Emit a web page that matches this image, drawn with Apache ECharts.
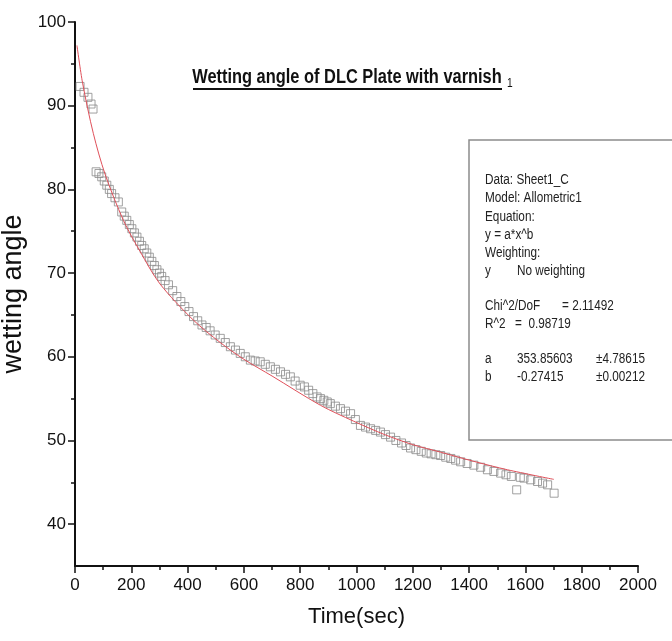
<!DOCTYPE html>
<html>
<head>
<meta charset="utf-8">
<script src="https://cdn.jsdelivr.net/npm/echarts@6/dist/echarts.min.js"></script>
<style>
  html, body { margin: 0; background: #fff; }
  #chart { width: 672px; height: 641px; }
</style>
</head>
<body>
<div id="chart"></div>
<script>
// measured points (time in sec, wetting angle in deg)
const expTime = [18, 32, 46, 57, 64,
  75, 85, 95, 104, 113, 122, 130, 142, 154, 166, 175, 184, 193, 202, 211, 220, 229, 237, 246, 255,
  264, 273, 282, 291, 300, 308, 320, 332, 347, 362, 376, 390, 405, 421, 436, 451, 466, 480, 498,
  516, 534, 552, 570, 587, 605, 623, 640, 658, 676, 694, 712, 730, 748, 765, 782, 800, 815, 830,
  845, 860, 872, 884, 896, 907, 925, 943, 961, 979, 996, 1014, 1032, 1050, 1068, 1085, 1103, 1121,
  1140, 1160, 1176, 1192, 1211, 1230, 1248, 1265, 1282, 1299, 1317, 1335, 1352, 1370, 1393, 1417,
  1441, 1465, 1488, 1512, 1531, 1550, 1569, 1582, 1595, 1619, 1643, 1661, 1679, 1702];
const expAngle = [92.3, 91.6, 91.0, 90.2, 89.6,
  82.1, 81.9, 81.5, 81.0, 80.5, 80.0, 79.5, 79.0, 78.5, 77.3, 76.8, 76.3, 75.8, 75.3, 74.8, 74.3, 73.8, 73.3, 72.9, 72.4,
  71.9, 71.4, 70.9, 70.4, 70.0, 69.6, 69.1, 68.6, 67.9, 67.2, 66.6, 66.0, 65.4, 64.8, 64.3, 63.8, 63.5, 63.1, 62.6,
  62.2, 61.7, 61.2, 60.8, 60.4, 60.0, 59.6, 59.5, 59.4, 59.1, 58.8, 58.5, 58.2, 57.9, 57.6, 57.1, 56.6, 56.4, 56.0,
  55.6, 55.2, 55.0, 54.8, 54.6, 54.4, 54.1, 53.8, 53.5, 53.2, 52.5, 51.8, 51.6, 51.4, 51.2, 51.0, 50.7, 50.4,
  50.0, 49.7, 49.4, 49.1, 48.9, 48.7, 48.5, 48.4, 48.3, 48.2, 48.0, 47.85, 47.65, 47.45, 47.25, 47.05,
  46.8, 46.5, 46.3, 46.1, 45.9, 45.7, 44.1, 45.6, 45.5, 45.3, 45.1, 44.9, 44.7, 43.7];

// fitted curve
const fitTime = [7, 27, 65, 107, 172, 231, 302, 420, 516, 600, 700, 872, 990, 1100, 1200, 1299, 1417, 1536, 1701];
const fitAngle = [97.2, 92.7, 86.7, 81.8, 76.3, 72.6, 68.7, 64.4, 61.7, 59.7, 57.7, 54.2, 52.3, 50.7, 49.5, 48.6, 47.5, 46.5, 45.35];

const yTickValues = [40, 50, 60, 70, 80, 90, 100];
const yMinorValues = [45, 55, 65, 75, 85, 95];

const fitRows = [
  ['Data: Sheet1_C', 485, 180],
  ['Model: Allometric1', 485, 198],
  ['Equation:', 485, 217],
  ['y = a*x^b', 485, 235],
  ['Weighting:', 485, 253],
  ['y', 485, 271], ['No weighting', 517, 271],
  ['Chi^2/DoF', 485, 306], ['= 2.11492', 562, 306],
  ['R^2', 485, 324], ['=  0.98719', 515, 324],
  ['a', 485, 359], ['353.85603', 517, 359], ['\u00b14.78615', 596, 359],
  ['b', 485, 377], ['-0.27415', 517, 377], ['\u00b10.00212', 596, 377]
];

const sans = '"Liberation Sans", Arial, sans-serif';
const chart = echarts.init(document.getElementById('chart'));

const zip = (xs, ys) => xs.map((x, i) => [x, ys[i]]);

const graphic = [
  {
    type: 'text', x: 347, y: 77, z: 20, scaleX: 0.82,
    style: { text: 'Wetting angle of DLC Plate with varnish', font: 'bold 20px ' + sans, fill: '#111', textAlign: 'center', textVerticalAlign: 'middle' }
  },
  { type: 'rect', z: 20, shape: { x: 193, y: 88, width: 309, height: 2 }, style: { fill: '#111' } },
  { type: 'text', x: 507, y: 84, z: 20, scaleX: 0.85, style: { text: '1', font: '12px ' + sans, fill: '#111', textVerticalAlign: 'middle' } },
  { type: 'rect', z: 20, shape: { x: 469, y: 140, width: 230, height: 300 }, style: { fill: '#fff', stroke: '#8c8c8c', lineWidth: 1.5 } }
].concat(fitRows.map(([t, x, y]) => ({
  type: 'text', x: x, y: y, z: 21, scaleX: 0.84,
  style: { text: t, font: '14px ' + sans, fill: '#222', textVerticalAlign: 'middle' }
})));

chart.setOption({
  animation: false,
  backgroundColor: '#fff',
  grid: { left: 75, right: 34, top: 22, bottom: 75, outerBoundsMode: 'none' },
  graphic: graphic,
  xAxis: {
    type: 'value',
    min: 0,
    max: 2000,
    interval: 200,
    name: 'Time(sec)',
    nameLocation: 'middle',
    nameGap: 40,
    nameTextStyle: { fontFamily: sans, fontSize: 22, color: '#111' },
    axisLine: { lineStyle: { color: '#111', width: 2 } },
    axisTick: { length: 7, lineStyle: { color: '#111', width: 1.5 } },
    minorTick: { show: true, splitNumber: 2, length: 4, lineStyle: { color: '#111', width: 1.5 } },
    axisLabel: { fontFamily: sans, fontSize: 17, color: '#111', margin: 11, formatter: (v) => String(v) },
    splitLine: { show: false }
  },
  yAxis: [
    {
      type: 'value',
      min: 35,
      max: 100,
      name: 'wetting angle',
      nameLocation: 'middle',
      nameGap: 30,
      nameRotate: 90,
      nameTextStyle: { fontFamily: sans, fontSize: 27, color: '#111' },
      axisLine: { show: true, lineStyle: { color: '#111', width: 2 } },
      axisTick: { show: true, length: 7, customValues: yTickValues, lineStyle: { color: '#111', width: 1.5 } },
      axisLabel: { customValues: yTickValues, fontFamily: sans, fontSize: 17, color: '#111', margin: 9 },
      splitLine: { show: false }
    },
    {
      type: 'value',
      min: 35,
      max: 100,
      position: 'left',
      axisLine: { show: false },
      axisTick: { show: true, length: 4, customValues: yMinorValues, lineStyle: { color: '#111', width: 1.5 } },
      axisLabel: { show: false },
      splitLine: { show: false }
    }
  ],
  series: [
    {
      name: 'data',
      type: 'scatter',
      symbol: 'rect',
      symbolSize: 8,
      itemStyle: { color: 'rgba(255,255,255,0)', borderColor: '#8a8a8a', borderWidth: 1 },
      data: zip(expTime, expAngle),
      z: 2
    },
    {
      name: 'fit',
      type: 'line',
      smooth: 0.3,
      showSymbol: false,
      lineStyle: { color: '#e0505a', width: 1 },
      data: zip(fitTime, fitAngle),
      z: 3
    }
  ]
});
</script>
</body>
</html>
